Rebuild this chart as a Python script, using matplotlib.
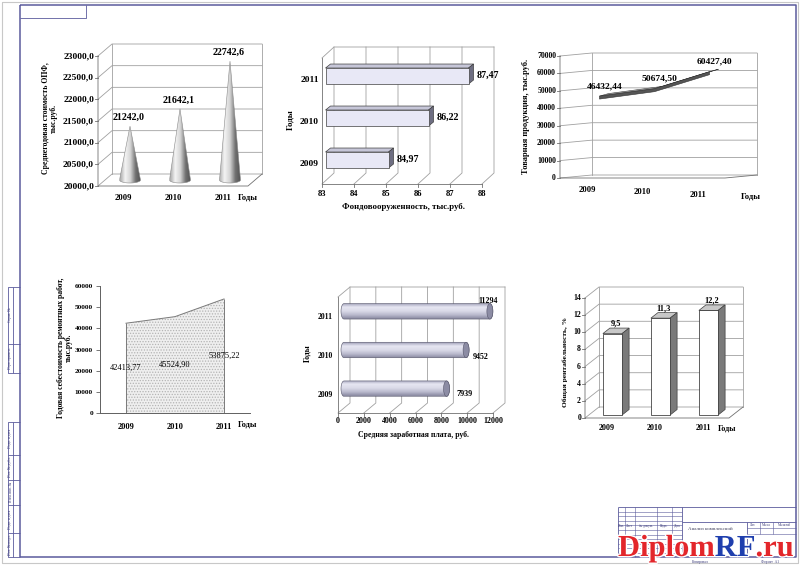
import numpy as np
import matplotlib
matplotlib.use("Agg")
import matplotlib.pyplot as plt
from matplotlib.patches import Polygon
from matplotlib.colors import LinearSegmentedColormap
import matplotlib.patheffects as pe

years = ["2009", "2010", "2011"]
opf_cost = [21242.0, 21642.1, 22742.6]        # среднегодовая стоимость ОПФ
fund_ratio = [84.97, 86.22, 87.47]            # фондовооруженность
output = [46432.44, 50674.50, 60427.40]       # товарная продукция
repair_cost = [42413.77, 45524.90, 53875.22]  # себестоимость ремонтных работ
salary = [7939, 9452, 11294]                  # средняя заработная плата
profit = [9.5, 11.3, 12.2]                    # общая рентабельность

opf_ticks = np.arange(20000, 23001, 500)
fund_ticks = np.arange(83, 89, 1)
output_ticks = np.arange(0, 70001, 10000)
repair_ticks = np.arange(0, 60001, 10000)
salary_ticks = np.arange(0, 12001, 2000)
profit_ticks = np.arange(0, 15, 2)

plt.rcParams["font.family"] = ["Liberation Serif", "DejaVu Serif"]
plt.rcParams["font.weight"] = "bold"
plt.rcParams["hatch.linewidth"] = 0.6

W, H = 800, 565
fig = plt.figure(figsize=(W / 100, H / 100), dpi=100)
GRID = "#a0a0a0"
AXC = "#707070"
FRAME = "#5b5b9c"

# background axes in pixel units for the drawing frame
bg = fig.add_axes([0, 0, 1, 1])
bg.set_xlim(0, W)
bg.set_ylim(H, 0)
bg.set_axis_off()


def fl(xs, ys, lw=0.6, c=FRAME):
    bg.plot(xs, ys, color=c, lw=lw, solid_capstyle="butt")


def ru(v, nd):
    return f"{v:.{nd}f}".replace(".", ",")


def box(x0, y0, x1, y1, xlim, ylim):
    ax = fig.add_axes([x0 / W, 1 - y1 / H, (x1 - x0) / W, (y1 - y0) / H])
    ax.set_xlim(*xlim)
    ax.set_ylim(*ylim)
    ax.set_axis_off()
    return ax


def px(ax, x, y, dx=0, dy=0):
    d = ax.transData.transform((x, y)) + np.array([dx, dy]) * fig.dpi / 100
    return fig.transFigure.inverted().transform(d)


def seg(ax, pts, c=GRID, lw=0.6, z=1):
    xy = np.array([px(ax, *p) for p in pts])
    ax.plot(xy[:, 0], xy[:, 1], color=c, lw=lw, transform=fig.transFigure,
            clip_on=False, zorder=z)


def poly(ax, pts, fc, ec="#404040", lw=0.5, z=3):
    p = Polygon([px(ax, *q) for q in pts], closed=True, facecolor=fc, edgecolor=ec,
                lw=lw, transform=fig.transFigure, clip_on=False, zorder=z)
    ax.add_patch(p)
    return p


def shade(ax, patch, cmap, vertical=False, z=3):
    v = patch.get_xy()
    g = np.linspace(0, 1, 256)
    g = g.reshape(-1, 1) if vertical else g.reshape(1, -1)
    im = ax.imshow(g, cmap=cmap, aspect="auto", interpolation="bilinear",
                   extent=[v[:, 0].min(), v[:, 0].max(), v[:, 1].min(), v[:, 1].max()],
                   transform=fig.transFigure, zorder=z)
    im.set_clip_box(fig.bbox)
    im.set_clip_path(patch)


def lab(ax, s, x, y, dx, dy, size, **kw):
    kw.setdefault("ha", "center")
    kw.setdefault("va", "center")
    ax.annotate(s, (x, y), xytext=(dx, dy), textcoords="offset pixels",
                fontsize=size, annotation_clip=False, **kw)


def ptext(x, y, s, size, rot=0, **kw):
    bg.text(x, y, s, fontsize=size, rotation=rot, ha="center", va="center",
            multialignment="center", linespacing=1.0, **kw)


def walls_v(ax, ticks, d):
    (x0, x1), (y0, y1) = ax.get_xlim(), ax.get_ylim()
    dx, dy = d
    for t in ticks:
        seg(ax, [(x0, t), (x0, t, dx, dy), (x1, t, dx, dy)])
        seg(ax, [(x0, t), (x0, t, -3, 0)], c=AXC)
    seg(ax, [(x0, y0, dx, dy), (x0, y1, dx, dy)])
    seg(ax, [(x1, y0, dx, dy), (x1, y1, dx, dy)])
    seg(ax, [(x0, y1), (x0, y0), (x1, y0), (x1, y0, dx, dy)], c=AXC)


def walls_h(ax, ticks, d):
    (x0, x1), (y0, y1) = ax.get_xlim(), ax.get_ylim()
    dx, dy = d
    for t in ticks:
        seg(ax, [(t, y0), (t, y0, dx, dy), (t, y1, dx, dy)])
        seg(ax, [(t, y0), (t, y0, 0, -3)], c=AXC)
    seg(ax, [(x0, y1), (x0, y1, dx, dy), (x1, y1, dx, dy)])
    seg(ax, [(x0, y1), (x0, y0), (x1, y0)], c=AXC)


# ---- 1. cones: среднегодовая стоимость ОПФ
ax1 = box(98, 56, 248, 186, (0, 3), (20000, 23000))
walls_v(ax1, opf_ticks, (14, 12))
cone_cmap = LinearSegmentedColormap.from_list(
    "cone", ["#a8a8a8", "#f4f4f4", "#d4d4d4", "#707070", "#505050"])
arc = np.linspace(0, np.pi, 40)
for i, v in enumerate(opf_cost):
    c = i + 0.5
    pts = [(c, v, 7, 6)] + [(c + 0.21 * np.cos(t), 20000, 7, 6 - 3 * np.sin(t)) for t in arc]
    cone = poly(ax1, pts, fc="none", ec="#8a8a8a", lw=0.4, z=4)
    shade(ax1, cone, cone_cmap)
    lab(ax1, ru(v, 1), c, v, 6, 10, 7.2, va="bottom")
for t in opf_ticks:
    lab(ax1, ru(t, 1), 0, t, -4, 0, 6.8, ha="right")
for i, y in enumerate(years):
    lab(ax1, y, i + 0.5, 20000, 0, -12, 6.2)
lab(ax1, "Годы", 3, 20000, 0, -12, 6.2)
ptext(50, 118, "Среднегодовая стоимость ОПФ,\nтыс.руб.", 5.6, 90)

# ---- 2. bars: фондовооруженность
ax2 = box(322, 58, 482, 184, (83, 88), (0, 3))
walls_h(ax2, fund_ticks, (12, 11))
f2, b2, h2 = (3.5, 3), (8.5, 7), 0.19
for i, v in enumerate(fund_ratio):
    c = i + 0.5
    poly(ax2, [(83, c + h2, *f2), (v, c + h2, *f2), (v, c + h2, *b2), (83, c + h2, *b2)], fc="#c6c6d8")
    poly(ax2, [(v, c - h2, *f2), (v, c - h2, *b2), (v, c + h2, *b2), (v, c + h2, *f2)], fc="#6e6e82")
    poly(ax2, [(83, c - h2, *f2), (v, c - h2, *f2), (v, c + h2, *f2), (83, c + h2, *f2)], fc="#e8e8f6")
    lab(ax2, ru(v, 2), v, c, 12, 4, 7.2, ha="left")
for t in fund_ticks:
    lab(ax2, str(t), t, 0, 0, -10, 6.2)
for i, y in enumerate(years):
    lab(ax2, y, 83, i + 0.5, -3, -1, 6.8, ha="right")
ptext(290, 120, "Годы", 6.5, 90)
ptext(403, 207, "Фондовооруженность, тыс.руб.", 6.3)

# ---- 3. ribbon line: товарная продукция
ax3 = box(560, 56, 725, 178, (0, 3), (0, 70000))
walls_v(ax3, output_ticks, (32, 3))
cx = np.arange(len(output)) + 0.5
front = [(x, v, 12, 1) for x, v in zip(cx, output)]
back = [(x, v, 21, 3.5) for x, v in zip(cx, output)]
lower = [(x, v, 12, -2) for x, v in zip(cx, output)]
poly(ax3, front + back[::-1], fc="#a8a8a8", ec="#404040", lw=0.4)
poly(ax3, front + lower[::-1], fc="#555555", ec="#303030", lw=0.4)
for x, v in zip(cx, output):
    lab(ax3, ru(v, 2), x, v, 17, 11, 6.8)
for t in output_ticks:
    lab(ax3, str(t), 0, t, -4, 0, 5.6, ha="right")
for i, y in enumerate(years):
    lab(ax3, y, i + 0.5, 0, 0, -12 - 2.5 * i, 6.2)
lab(ax3, "Годы", 3, 0, 26, -18, 6.2)
ptext(526, 116, "Товарная продукция, тыс.руб.", 6.0, 90)

# ---- 4. area: себестоимость ремонтных работ
ax4 = fig.add_axes([100 / W, 1 - 413 / H, 150 / W, 127 / H])
ax4.patch.set_alpha(0)
ax4.set_xlim(-0.53, 2.53)
ax4.set_ylim(0, 60000)
xs = np.arange(len(repair_cost))
ax4.fill_between(xs, repair_cost, 0, facecolor="#efefef", edgecolor="#b4b4b4",
                 hatch="......", lw=0, zorder=2)
ax4.plot(xs, repair_cost, color="#7a7a7a", lw=0.7, zorder=3)
ax4.vlines([xs[0], xs[-1]], 0, [repair_cost[0], repair_cost[-1]], color="#7a7a7a", lw=0.7, zorder=3)
for s in ("top", "right"):
    ax4.spines[s].set_visible(False)
for s in ("left", "bottom"):
    ax4.spines[s].set_color("#606060")
    ax4.spines[s].set_linewidth(0.7)
ax4.set_yticks(repair_ticks, [str(t) for t in repair_ticks])
ax4.tick_params(axis="y", length=3, width=0.6, color="#606060", labelsize=5.3, pad=2)
ax4.set_xticks(xs, years)
ax4.tick_params(axis="x", length=0, labelsize=6, pad=7)
for x, v in zip(xs, repair_cost):
    ax4.text(x, v / 2, ru(v, 2), ha="center", va="center", fontsize=6, fontweight="normal")
lab(ax4, "Годы", 2.53, 0, -12, -11, 6, ha="left")
ptext(65, 348, "Годовая себестоимость ремонтных работ,\nтыс.руб.", 5.5, 90)

# ---- 5. cylinders: средняя заработная плата
ax5 = box(338, 297, 493, 413, (0, 12000), (0, 3))
walls_h(ax5, salary_ticks, (12, 10))
cyl_cmap = LinearSegmentedColormap.from_list(
    "cyl", ["#9a9ab4", "#e6e6f2", "#dadae8", "#b8b8cc", "#86869e"])
m5, h5, e5 = (6, 5), 0.2, 3
lab_off5 = [(24, 0), (21, -2), (4, 15)]
for i, v in enumerate(salary):
    c = i + 0.5
    right = [(v, c + h5 * np.sin(t), m5[0] + e5 * np.cos(t), m5[1])
             for t in np.linspace(np.pi / 2, -np.pi / 2, 20)]
    left = [(0, c + h5 * np.sin(t), m5[0] - e5 * np.cos(t), m5[1])
            for t in np.linspace(-np.pi / 2, np.pi / 2, 20)]
    body = poly(ax5, [(0, c + h5, *m5)] + right + [(0, c - h5, *m5)] + left,
                fc="none", ec="#55556a", lw=0.4, z=4)
    shade(ax5, body, cyl_cmap, vertical=True)
    cap = [(v, c + h5 * np.sin(t), m5[0] + e5 * np.cos(t), m5[1]) for t in np.linspace(0, 2 * np.pi, 40)]
    poly(ax5, cap, fc="#8c8ca4", ec="#55556a", lw=0.4, z=5)
    lab(ax5, str(v), v, c, lab_off5[i][0], lab_off5[i][1], 5.8)
for t in salary_ticks:
    lab(ax5, str(t), t, 0, 0, -8, 5.8)
for i, y in enumerate(years):
    lab(ax5, y, 0, i + 0.5, -5, -1, 5.6, ha="right")
ptext(307, 353, "Годы", 5.6, 90)
ptext(413, 435, "Средняя заработная плата, руб.", 5.6)

# ---- 6. bars: общая рентабельность
ax6 = box(585, 298, 729, 418, (0, 3), (0, 14))
walls_v(ax6, profit_ticks, (14, 11))
f6, b6, w6 = (3.5, 3), (10.5, 8.5), 0.2
for i, v in enumerate(profit):
    c = i + 0.5
    poly(ax6, [(c - w6, v, *f6), (c + w6, v, *f6), (c + w6, v, *b6), (c - w6, v, *b6)], fc="#c8c8c8")
    poly(ax6, [(c + w6, 0, *f6), (c + w6, 0, *b6), (c + w6, v, *b6), (c + w6, v, *f6)], fc="#7a7a7a")
    poly(ax6, [(c - w6, 0, *f6), (c + w6, 0, *f6), (c + w6, v, *f6), (c - w6, v, *f6)], fc="white", ec="#202020")
    lab(ax6, ru(v, 1), c, v, 7, 9, 6, va="bottom")
for t in profit_ticks:
    lab(ax6, str(t), 0, t, -4, 0, 5.6, ha="right")
for i, y in enumerate(years):
    lab(ax6, y, i + 0.5, 0, -2, -10, 5.8)
lab(ax6, "Годы", 3, 0, -2, -10, 5.8)
ptext(565, 362, "Общая рентабельность, %", 5.4, 90)

# ---- drawing frame, side strip and title block
fl([2, 798, 798, 2, 2], [2, 2, 563, 563, 2], lw=0.8, c="#c8c8c8")
fl([20, 796, 796, 20, 20], [5, 5, 557, 557, 5], lw=1.1)
fl([20, 86, 86], [18, 18, 5])
for y0, y1, cuts in [(287, 373, [344]), (422, 557, [455, 480, 505, 533])]:
    fl([20, 8, 8, 20], [y0, y0, y1, y1])
    fl([13, 13], [y0, y1])
    for y in cuts:
        fl([8, 20], [y, y])
strip = [(315, "Справ. №"), (358, "Перв. примен."), (438, "Подп. и дата"), (467, "Инв. № дубл."),
         (492, "Взам. инв. №"), (519, "Подп. и дата"), (545, "Инв. № подл.")]
for y, s in strip:
    bg.text(10.5, y, s, fontsize=2.6, rotation=90, ha="center", va="center",
            fontweight="normal", color="#3c3c7a")
fl([618, 618], [507, 557])
fl([618, 796], [507, 507])
for y in np.arange(511.5, 556, 4.6):
    fl([618, 682], [y, y], lw=0.4)
for x in (625, 635, 657, 672):
    fl([x, x], [507, 557], lw=0.4)
fl([682, 682], [507, 557])
fl([682, 796], [522, 522])
fl([747, 747], [522, 557])
fl([747, 796], [528, 528], lw=0.4)
fl([747, 796], [534, 534], lw=0.4)
for x in (760, 773):
    fl([x, x], [522, 534], lw=0.4)
for x, s in [(621.5, "Изм."), (630, "Лист"), (646, "№ докум."), (664.5, "Подп."), (677, "Дата")]:
    bg.text(x, 526, s, fontsize=2.4, ha="center", va="center", fontweight="normal", color="#3c3c7a")
for x, s in [(753.5, "Лит."), (766.5, "Масса"), (784.5, "Масштаб")]:
    bg.text(x, 525, s, fontsize=2.4, ha="center", va="center", fontweight="normal", color="#3c3c7a")
bg.text(688, 529, "Анализ комплексной", fontsize=3.6, ha="left", va="center",
        fontweight="normal", color="#3c3c5a")
bg.text(700, 561.5, "Копировал", fontsize=2.6, ha="center", va="center", fontweight="normal", color="#3c3c7a")
bg.text(770, 561.5, "Формат  А1", fontsize=2.6, ha="center", va="center", fontweight="normal", color="#3c3c7a")

# ---- watermark
top = fig.add_axes([0, 0, 1, 1])
top.set_xlim(0, W)
top.set_ylim(H, 0)
top.set_axis_off()
halo = [pe.withStroke(linewidth=2, foreground="white")]
t1 = top.text(618, 556, "Diplom", fontsize=22, color="#e3262b", va="baseline", ha="left", path_effects=halo)
t2 = top.annotate("RF", xy=(1, 0), xycoords=t1, va="bottom", ha="left", fontsize=22,
                  color="#1f3fae", path_effects=halo)
top.annotate(".ru", xy=(1, 0), xycoords=t2, va="bottom", ha="left", fontsize=22,
             color="#e3262b", path_effects=halo)

fig.savefig("out.png", dpi=100, facecolor="white")
